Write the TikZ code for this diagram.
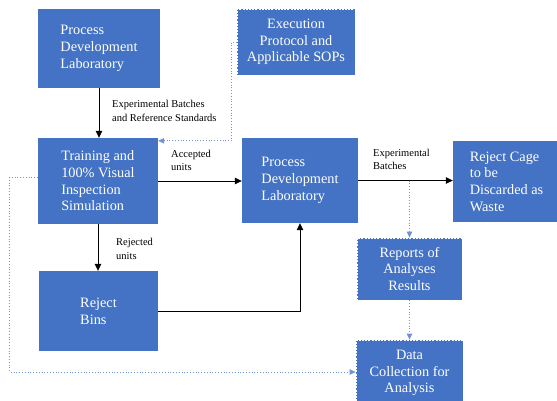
\documentclass[tikz,border=0pt]{standalone}
\usepackage{fontspec}
\setmainfont{Liberation Serif}
\usepackage{tikz}
\usepackage{xcolor}
\usetikzlibrary{arrows.meta}

\definecolor{boxblue}{HTML}{4472C4}
\definecolor{dotblue}{HTML}{6F93D6}

\begin{document}
\begin{tikzpicture}[x=1pt, y=-1pt,
    solidbox/.style={rectangle, fill=boxblue, draw=none, text=white, inner sep=0pt,
        font=\fontsize{14.3}{16.7}\selectfont},
    dashbox/.style={solidbox, draw=white, line width=0.8pt, dash pattern=on 2pt off 1.2pt},
    lbl/.style={anchor=west, align=left, inner sep=0pt, font=\fontsize{10.5}{13.5}\selectfont},
    arr/.style={thick, -{Triangle[width=6.5pt,length=7pt]}},
    dotarr/.style={dotblue, line width=0.8pt, dotted, -{Triangle[width=5.5pt,length=6pt]}}]
\useasboundingbox (0,0) rectangle (557,400);
\clip (0,0) rectangle (557,400);

\node[solidbox, minimum width=122pt, minimum height=79pt, align=left] (pdltop) at (99,48.5) {Process\\Development\\Laboratory};
\node[dashbox, minimum width=118pt, minimum height=66pt, align=center] (exec) at (296,42) {Execution\\Protocol and\\Applicable SOPs};
\node[solidbox, minimum width=120pt, minimum height=86pt, align=left] (train) at (98,181) {Training and\\100\% Visual\\Inspection\\Simulation};
\node[solidbox, minimum width=116pt, minimum height=85pt, align=left] (pdlmid) at (300,180.5) {Process\\Development\\Laboratory};
\node[solidbox, minimum width=107pt, minimum height=81pt, align=left] (cage) at (506.5,181.5) {Reject Cage\\to be\\Discarded as\\Waste};
\node[solidbox, minimum width=119pt, minimum height=80pt, align=left] (bins) at (98.5,311) {Reject\\Bins};
\node[dashbox, minimum width=105pt, minimum height=62pt, align=center] (reports) at (409.5,269) {Reports of\\Analyses\\Results};
\node[dashbox, minimum width=107pt, minimum height=66pt, align=center] (datacol) at (409.5,373) {Data\\Collection for\\Analysis};

\node[lbl] (lblbatches) at (112,111) {Experimental Batches\\and Reference Standards};
\node[lbl] (lblaccepted) at (171,160.5) {Accepted\\units};
\node[lbl] (lblrejected) at (116,249) {Rejected\\units};
\node[lbl] (lblexpbatch) at (373,159.5) {Experimental\\Batches};

\coordinate (split) at (reports.north |- pdlmid.east);

\draw[arr] (pdltop.south) -- (pdltop.south |- train.north);
\draw[arr] (train.east) -- (train.east -| pdlmid.west);
\draw[arr] (pdlmid.east) -- (pdlmid.east -| cage.west);
\draw[arr] (train.south) -- (train.south |- bins.north);
\draw[arr] (bins.east) -| (pdlmid.south);

\draw[dotarr] (exec.west) -- ++(-5,0) |- ([yshift=-3pt]train.north east);
\draw[dotarr] (split) -- (reports.north);
\draw[dotarr] (reports.south) -- (datacol.north);
\draw[dotarr] ([yshift=4pt]train.west) -- ++(-28,0) |- ([yshift=1pt]datacol.west);
\end{tikzpicture}
\end{document}
